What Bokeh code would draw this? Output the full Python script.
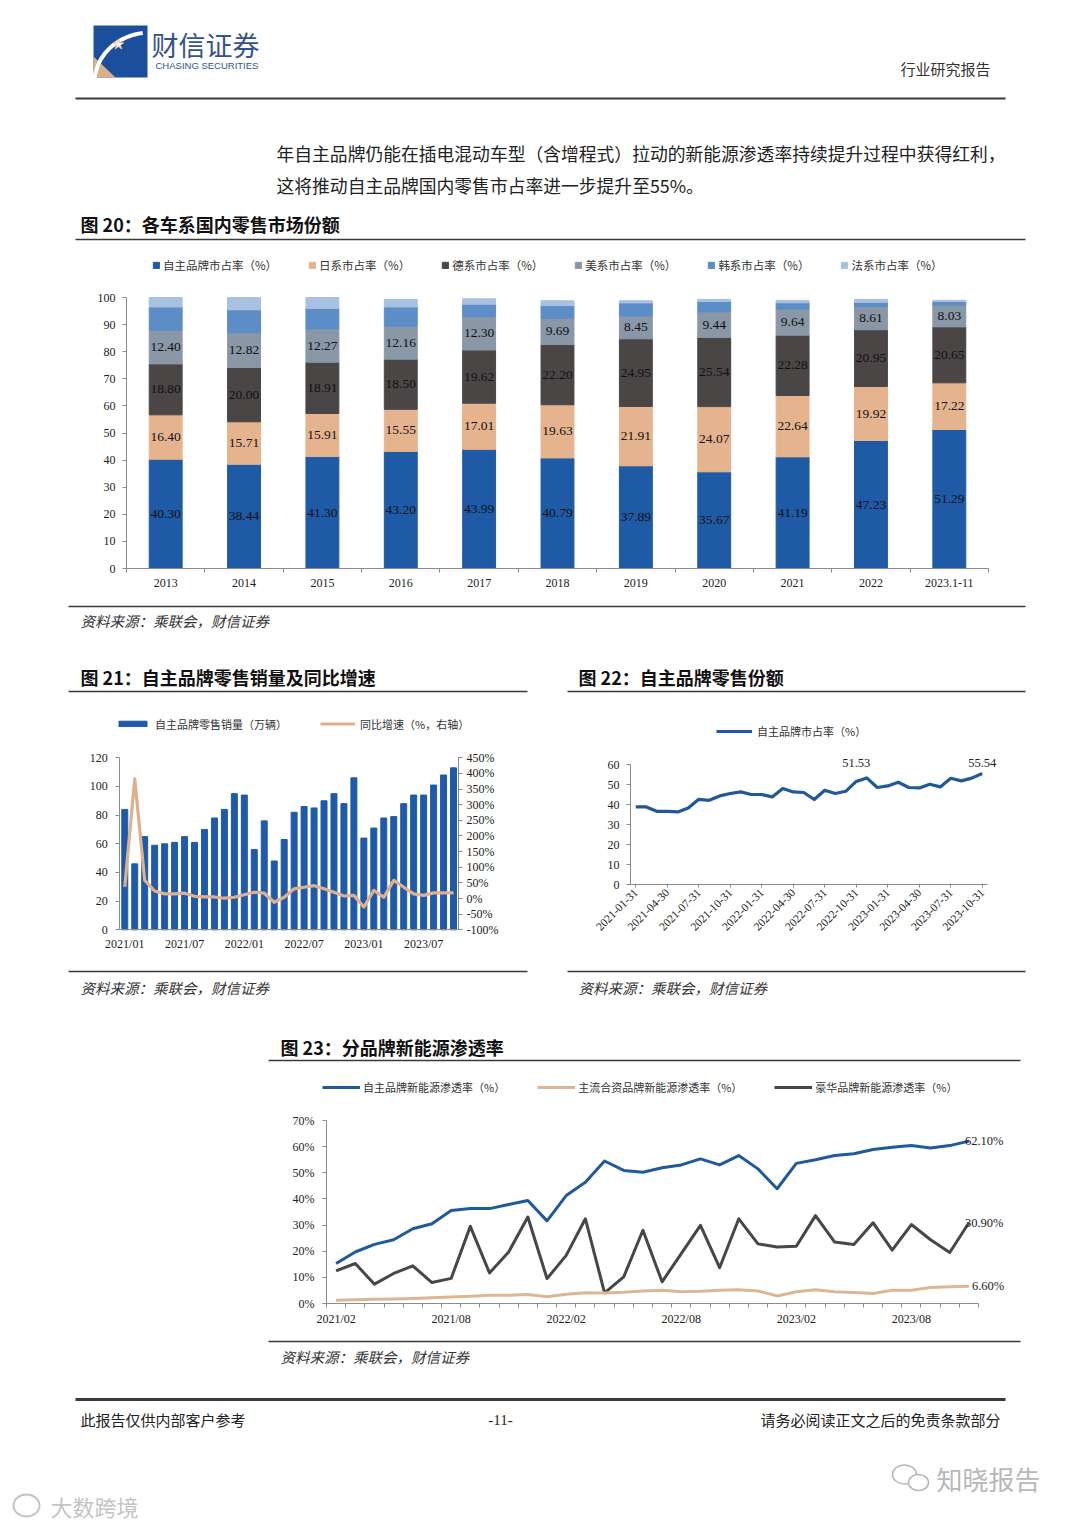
import numpy as np
from math import pi
from bokeh.plotting import figure
from bokeh.layouts import column, row
from bokeh.models import (Range1d, FixedTicker, Legend, LegendItem, LinearAxis, Label,
                          ColumnDataSource, PrintfTickFormatter)
from bokeh.core.properties import value
from bokeh.embed import file_html
from bokeh.resources import INLINE

# ---------------- data ----------------
years20 = ["2013", "2014", "2015", "2016", "2017", "2018", "2019", "2020", "2021", "2022", "2023.1-11"]
own20 = [40.30, 38.44, 41.30, 43.20, 43.99, 40.79, 37.89, 35.67, 41.19, 47.23, 51.29]
jp20 = [16.40, 15.71, 15.91, 15.55, 17.01, 19.63, 21.91, 24.07, 22.64, 19.92, 17.22]
de20 = [18.80, 20.00, 18.91, 18.50, 19.62, 22.20, 24.95, 25.54, 22.28, 20.95, 20.65]
us20 = [12.40, 12.82, 12.27, 12.16, 12.30, 9.69, 8.45, 9.44, 9.64, 8.61, 8.03]
kr20 = [8.6, 8.5, 7.6, 7.1, 4.6, 4.7, 4.8, 3.8, 2.3, 1.5, 1.3]
fr20 = [3.5, 4.5, 4.0, 2.8, 2.0, 1.8, 0.8, 0.8, 0.8, 1.1, 0.5]
series20 = ["自主品牌市占率（%）", "日系市占率（%）", "德系市占率（%）", "美系市占率（%）", "韩系市占率（%）", "法系市占率（%）"]

months21 = ["2021/01", "2021/02", "2021/03", "2021/04", "2021/05", "2021/06", "2021/07", "2021/08", "2021/09",
            "2021/10", "2021/11", "2021/12", "2022/01", "2022/02", "2022/03", "2022/04", "2022/05", "2022/06",
            "2022/07", "2022/08", "2022/09", "2022/10", "2022/11", "2022/12", "2023/01", "2023/02", "2023/03",
            "2023/04", "2023/05", "2023/06", "2023/07", "2023/08", "2023/09", "2023/10"]
sales21 = [84, 46, 65, 59, 60, 61, 65, 61, 70, 78, 84, 95, 94, 56, 76, 48, 63, 82, 86, 85, 90, 95, 88, 106,
           64, 71, 78, 79, 88, 94, 94, 101, 108, 113]
growth21 = [37, 383, 58, 24, 15, 15, 17, 7, 5, 5, 1, 4, 12, 20, 17, -12, 4, 31, 36, 41, 31, 20, 8, 10,
            -27, 26, 4, 58, 36, 15, 10, 18, 18, 18]
tick_months21 = ["2021/01", "2021/07", "2022/01", "2022/07", "2023/01", "2023/07"]

dates22 = ["2021-01-31", "2021-04-30", "2021-07-31", "2021-10-31", "2022-01-31", "2022-04-30",
           "2022-07-31", "2022-10-31", "2023-01-31", "2023-04-30", "2023-07-31", "2023-10-31"]
share22 = [38.8, 38.8, 36.6, 36.6, 36.3, 38.3, 42.6, 42.1, 44.3, 45.5, 46.3, 45.0, 45.0, 43.8, 48.0, 46.3,
           46.0, 42.5, 47.1, 45.5, 46.6, 51.53, 53.3, 48.5, 49.3, 51.1, 48.5, 48.3, 50.1, 48.8, 53.1, 51.8,
           53.2, 55.54]

months23 = ["2021/02", "2021/08", "2022/02", "2022/08", "2023/02", "2023/08"]
own23 = [15.3, 19.7, 22.6, 24.4, 28.6, 30.5, 35.6, 36.3, 36.3, 37.9, 39.4, 31.6, 41.3, 46.4, 54.5, 50.9,
         50.2, 51.9, 53.0, 55.3, 53.0, 56.6, 51.5, 43.9, 53.6, 55.0, 56.6, 57.3, 58.9, 59.8, 60.4, 59.5,
         60.4, 62.1]
jv23 = [1.2, 1.4, 1.6, 1.7, 1.9, 2.2, 2.5, 2.8, 3.2, 3.2, 3.4, 2.6, 3.5, 4.1, 4.0, 4.3, 4.8, 5.1, 4.5,
        4.7, 5.1, 5.3, 4.8, 2.9, 4.5, 5.3, 4.5, 4.2, 3.8, 5.1, 5.1, 6.1, 6.4, 6.6]
lux23 = [12.5, 15.3, 7.4, 11.5, 14.4, 8.0, 9.6, 29.5, 11.7, 19.7, 33.1, 9.5, 18.4, 32.4, 4.1, 10.2, 28.0,
         8.3, 19.1, 29.9, 13.7, 32.4, 22.8, 21.6, 21.9, 33.6, 23.5, 22.6, 30.9, 20.4, 30.2, 24.4, 19.5, 30.9]
series23 = ["自主品牌新能源渗透率（%）", "主流合资品牌新能源渗透率（%）", "豪华品牌新能源渗透率（%）"]

# ---------------- styles ----------------
SERIF = "'Liberation Serif', 'Noto Sans CJK SC'"
CJK = "'Noto Sans CJK SC'"
SANS = "'Liberation Sans', 'Noto Sans'"
PAGE_W = 1064
RULE = "#3a3a3a"


def band(y0, y1):
    f = figure(width=PAGE_W, height=y1 - y0, x_range=Range1d(0, PAGE_W), y_range=Range1d(y1, y0),
               x_axis_type=None, y_axis_type=None, output_backend="svg", toolbar_location=None,
               title=None, min_border=0, min_border_left=0, min_border_right=0,
               min_border_top=0, min_border_bottom=0)
    f.grid.visible = False
    f.outline_line_color = None
    return f


def txt(f, x, y, s, size, font=CJK, color="#222", align="left", style="normal"):
    f.text(x=[x], y=[y], text=[s], text_font=value(font), text_font_size=f"{size}px",
           text_color=color, text_align=align, text_baseline="middle", text_font_style=style)


def rule(f, x0, x1, y, w=1.5, c=RULE):
    f.segment(x0=[x0], y0=[y], x1=[x1], y1=[y], line_width=w, line_color=c)


def mrange(d0, d1, p0, p1, c0, c1):
    """Range whose values d0/d1 fall on page pixels p0/p1 when the canvas spans c0..c1."""
    s = (p1 - p0) / (d1 - d0)
    return Range1d(d0 + (c0 - p0) / s, d1 + (c1 - p1) / s)


def style_axis(ax, size="12px", standoff=4):
    ax.axis_line_color = "#8c8c8c"
    ax.major_tick_line_color = "#8c8c8c"
    ax.minor_tick_line_color = None
    ax.major_label_text_font = SERIF
    ax.major_label_text_font_size = size
    ax.major_label_text_color = "#222"
    ax.major_tick_in = 0
    ax.major_tick_out = 4
    ax.major_label_standoff = standoff


def chart(w, h, xr, yr):
    p = figure(width=w, height=h, x_range=xr, y_range=yr, output_backend="svg", toolbar_location=None,
               title=None, min_border=0, min_border_left=0, min_border_right=0,
               min_border_top=0, min_border_bottom=0)
    p.grid.visible = False
    p.outline_line_color = None
    return p


def legend(items, loc, gw, gh, standoff, spacing, size="11px"):
    return Legend(items=items, orientation="horizontal", location=loc, glyph_width=gw, glyph_height=gh,
                  label_height=gh, label_width=10, label_standoff=standoff, spacing=spacing, padding=0,
                  margin=0, border_line_color=None, background_fill_alpha=0,
                  label_text_font=CJK, label_text_font_size=size, label_text_color="#333")


# ---------------- band A: header, paragraph, title 20 ----------------
A = band(0, 245)
A.quad(left=[93], right=[147], top=[25], bottom=[77], fill_color="#1C4F9B", line_color=None)
A.patch(x=[93, 93, 115], y=[77, 56, 77], fill_color="#D8B18A", line_color=None)
t = np.linspace(np.radians(183), np.radians(262), 30)
A.line(x=150 + 56 * np.cos(t), y=82 + 50 * np.sin(t), line_color="white", line_width=4)
A.scatter(x=[118], y=[44], marker="star", size=11, fill_color="white", line_color="#E8B890")
txt(A, 151, 44, "财信证券", 27, color="#34538C")
txt(A, 155, 65, "CHASING SECURITIES", 9.5, font=SANS, color="#34538C")
txt(A, 990, 68, "行业研究报告", 15, color="#333", align="right")
rule(A, 75, 1005, 98, w=2.2)
txt(A, 276, 152, "年自主品牌仍能在插电混动车型（含增程式）拉动的新能源渗透率持续提升过程中获得红利，", 17.8)
txt(A, 276, 184, "这将推动自主品牌国内零售市占率进一步提升至55%。", 17.8)
txt(A, 80, 223, "图 20：各车系国内零售市场份额", 18, color="#111", style="bold")
rule(A, 75, 1025, 239)

# ---------------- figure 20: stacked bars ----------------
idx20 = list(range(len(years20)))
n20 = len(years20)
p20 = chart(PAGE_W, 355, mrange(-0.5, n20 - 0.5, 126, 988, 0, PAGE_W), mrange(0, 100, 568, 297, 600, 245))
src20 = ColumnDataSource(dict(x=idx20, own=own20, jp=jp20, de=de20, us=us20, kr=kr20, fr=fr20))
colors20 = ["#1F5AA6", "#E5B38D", "#4A4646", "#8A97A7", "#5C8DC6", "#A9C1E0"]
rs20 = p20.vbar_stack(["own", "jp", "de", "us", "kr", "fr"], x="x", width=0.42, color=colors20,
                      source=src20)
stack = np.array([own20, jp20, de20, us20])
mids = np.cumsum(stack, axis=0) - stack / 2
for k in range(4):
    p20.text(x=idx20, y=list(mids[k]), text=[f"{v:.2f}" for v in stack[k]], text_font=value(SERIF),
             text_font_size="13.5px", text_color="#111", text_align="center", text_baseline="middle")
p20.add_layout(legend([LegendItem(label=s, renderers=[r]) for s, r in zip(series20, rs20)],
                      (152, 600 - 273), 8, 8, 3, 31, "11.5px"))
style_axis(p20.yaxis[0], standoff=7)
p20.yaxis.ticker = FixedTicker(ticks=list(range(0, 101, 10)))
p20.yaxis.fixed_location = -0.5
p20.yaxis.bounds = (0, 100)
style_axis(p20.xaxis[0])
p20.xaxis.fixed_location = 0
p20.xaxis.bounds = (-0.5, n20 - 0.5)
p20.xaxis.ticker = FixedTicker(ticks=idx20, minor_ticks=[i - 0.5 for i in range(n20 + 1)])
p20.xaxis.major_label_overrides = {i: y for i, y in enumerate(years20)}
p20.xaxis.major_tick_line_color = None
p20.xaxis.major_tick_out = 0
p20.xaxis.minor_tick_line_color = "#8c8c8c"
p20.xaxis.minor_tick_in = 0
p20.xaxis.minor_tick_out = 4
p20.xaxis.major_label_standoff = 6

# ---------------- band C ----------------
C = band(600, 700)
rule(C, 68, 1025, 606)
txt(C, 80, 620, "资料来源：乘联会，财信证券", 14.5, color="#333", style="italic")
txt(C, 80, 676, "图 21：自主品牌零售销量及同比增速", 18, color="#111", style="bold")
txt(C, 578, 676, "图 22：自主品牌零售份额", 18, color="#111", style="bold")
rule(C, 68, 527, 691)
rule(C, 567, 1025, 691)

# ---------------- figure 21: bars + growth line ----------------
HALF = PAGE_W // 2
idx21 = list(range(len(months21)))
n21 = len(months21)
p21 = chart(HALF, 265, mrange(-0.5, n21 - 0.5, 119.3, 458, 0, HALF), mrange(0, 120, 929.3, 757.3, 965, 700))
p21.extra_y_ranges = {"g": mrange(-100, 450, 929.3, 757.3, 965, 700)}
b21 = p21.vbar(x=idx21, top=sales21, width=0.6, color="#1F5AA8")
l21 = p21.line(x=idx21, y=growth21, y_range_name="g", line_color="#DDB08E", line_width=3.2,
               line_join="round")
axr = LinearAxis(y_range_name="g", ticker=FixedTicker(ticks=list(range(-100, 451, 50))),
                 formatter=PrintfTickFormatter(format="%d%%"))
p21.add_layout(axr, "right")
style_axis(p21.yaxis[0], standoff=8)
p21.yaxis[0].ticker = FixedTicker(ticks=list(range(0, 121, 20)))
p21.yaxis[0].fixed_location = -0.5
p21.yaxis[0].bounds = (0, 120)
style_axis(axr)
axr.fixed_location = n21 - 0.5
axr.bounds = (-100, 450)
style_axis(p21.xaxis[0])
p21.xaxis.fixed_location = 0
p21.xaxis.bounds = (-0.5, n21 - 0.5)
p21.xaxis.ticker = FixedTicker(ticks=[months21.index(m) for m in tick_months21])
p21.xaxis.major_label_overrides = {months21.index(m): m for m in tick_months21}
p21.xaxis.major_tick_line_color = None
p21.xaxis.major_tick_out = 0
p21.xaxis.major_label_standoff = 7
p21.add_layout(legend([LegendItem(label="自主品牌零售销量（万辆）", renderers=[b21]),
                       LegendItem(label="同比增速（%，右轴）", renderers=[l21])],
                      (115, 965 - 731.5), 35, 7, 5, 33))

# ---------------- figure 22: share line ----------------
idx22 = list(range(len(share22)))
n22 = len(share22)
p22 = chart(PAGE_W - HALF, 265, mrange(-0.5, n22 - 0.5, 630, 987, HALF, PAGE_W),
            mrange(0, 60, 884, 764, 965, 700))
l22 = p22.line(x=idx22, y=share22, line_color="#1F5A96", line_width=3.2, line_join="round")
style_axis(p22.yaxis[0], standoff=7)
p22.yaxis.ticker = FixedTicker(ticks=list(range(0, 61, 10)))
p22.yaxis.fixed_location = -0.5
p22.yaxis.bounds = (0, 60)
style_axis(p22.xaxis[0], "11.5px")
p22.xaxis.fixed_location = 0
p22.xaxis.bounds = (-0.5, n22 - 0.5)
p22.xaxis.ticker = FixedTicker(ticks=list(range(0, n22, 3)))
p22.xaxis.major_label_overrides = {i * 3: d for i, d in enumerate(dates22)}
p22.xaxis.major_label_orientation = pi / 4
p22.xaxis.major_tick_out = 3
p22.xaxis.major_label_standoff = 3
for i, off in ((21, 18), (33, 10)):
    p22.add_layout(Label(x=i, y=share22[i], text=f"{share22[i]:.2f}", text_font=SERIF,
                         text_font_size="12.5px", text_color="#222", text_align="center",
                         text_baseline="middle", y_offset=off))
p22.add_layout(legend([LegendItem(label="自主品牌市占率（%）", renderers=[l22])],
                      (716 - HALF, 965 - 739), 36, 8, 5, 30))

# ---------------- band E ----------------
E = band(965, 1070)
rule(E, 68, 527, 971)
rule(E, 567, 1025, 971)
txt(E, 80, 987, "资料来源：乘联会，财信证券", 14.5, color="#333", style="italic")
txt(E, 578, 987, "资料来源：乘联会，财信证券", 14.5, color="#333", style="italic")
txt(E, 280, 1046, "图 23：分品牌新能源渗透率", 18, color="#111", style="bold")
rule(E, 268, 1020, 1060)

# ---------------- figure 23: NEV penetration ----------------
idx23 = list(range(len(own23)))
n23 = len(own23)
p23 = chart(PAGE_W, 265, mrange(-0.5, n23 - 0.5, 326, 978, 0, PAGE_W), mrange(0, 70, 1303, 1120, 1335, 1070))
lx = p23.line(x=idx23, y=lux23, line_color="#474747", line_width=3, line_join="round")
lj = p23.line(x=idx23, y=jv23, line_color="#DDB695", line_width=3, line_join="round")
lo = p23.line(x=idx23, y=own23, line_color="#1F5A9A", line_width=3, line_join="round")
style_axis(p23.yaxis[0], standoff=8)
p23.yaxis.ticker = FixedTicker(ticks=list(range(0, 71, 10)))
p23.yaxis.formatter = PrintfTickFormatter(format="%d%%")
p23.yaxis.fixed_location = -0.5
p23.yaxis.bounds = (0, 70)
style_axis(p23.xaxis[0])
p23.xaxis.fixed_location = 0
p23.xaxis.bounds = (-0.5, n23 - 0.5)
p23.xaxis.ticker = FixedTicker(ticks=[i * 6 for i in range(len(months23))],
                               minor_ticks=[i - 0.5 for i in range(n23 + 1)])
p23.xaxis.major_label_overrides = {i * 6: m for i, m in enumerate(months23)}
p23.xaxis.major_tick_line_color = None
p23.xaxis.major_tick_out = 0
p23.xaxis.minor_tick_line_color = "#8c8c8c"
p23.xaxis.minor_tick_in = 0
p23.xaxis.minor_tick_out = 4
p23.xaxis.major_label_standoff = 4
last = n23 - 1
for ser, xo in ((own23, -4), (lux23, -4), (jv23, 3)):
    p23.add_layout(Label(x=last, y=ser[last], text=f"{ser[last]:.2f}%", text_font=SERIF,
                         text_font_size="12.5px", text_color="#222", text_align="left",
                         text_baseline="middle", x_offset=xo))
p23.add_layout(legend([LegendItem(label=s, renderers=[r]) for s, r in zip(series23, [lo, lj, lx])],
                      (322, 1335 - 1095), 38, 8, 3, 32))

# ---------------- band G: source + footer ----------------
G = band(1335, 1527)
rule(G, 268, 1020, 1341)
txt(G, 280, 1356, "资料来源：乘联会，财信证券", 14.5, color="#333", style="italic")
rule(G, 75, 1005, 1399, w=3)
txt(G, 80, 1419, "此报告仅供内部客户参考", 15, color="#222")
txt(G, 500, 1419, "-11-", 15, font=SERIF, color="#222", align="center")
txt(G, 1000, 1419, "请务必阅读正文之后的免责条款部分", 15, color="#222", align="right")
G.ellipse(x=[904, 918], y=[1474, 1482], width=[24, 20], height=[19, 16], fill_color="white",
          line_color="#b5b5b5", line_width=1.5)
txt(G, 936, 1478, "知晓报告", 26, color="#b8b8b8")
G.ellipse(x=[26], y=[1505], width=[26], height=[22], fill_alpha=0, line_color="#c4c4c4", line_width=2)
txt(G, 50, 1505, "大数跨境", 22, color="#c4c4c4")

page = column(A, p20, C, row(p21, p22), E, p23, G)
open("out.html", "w").write(file_html(page, INLINE))
